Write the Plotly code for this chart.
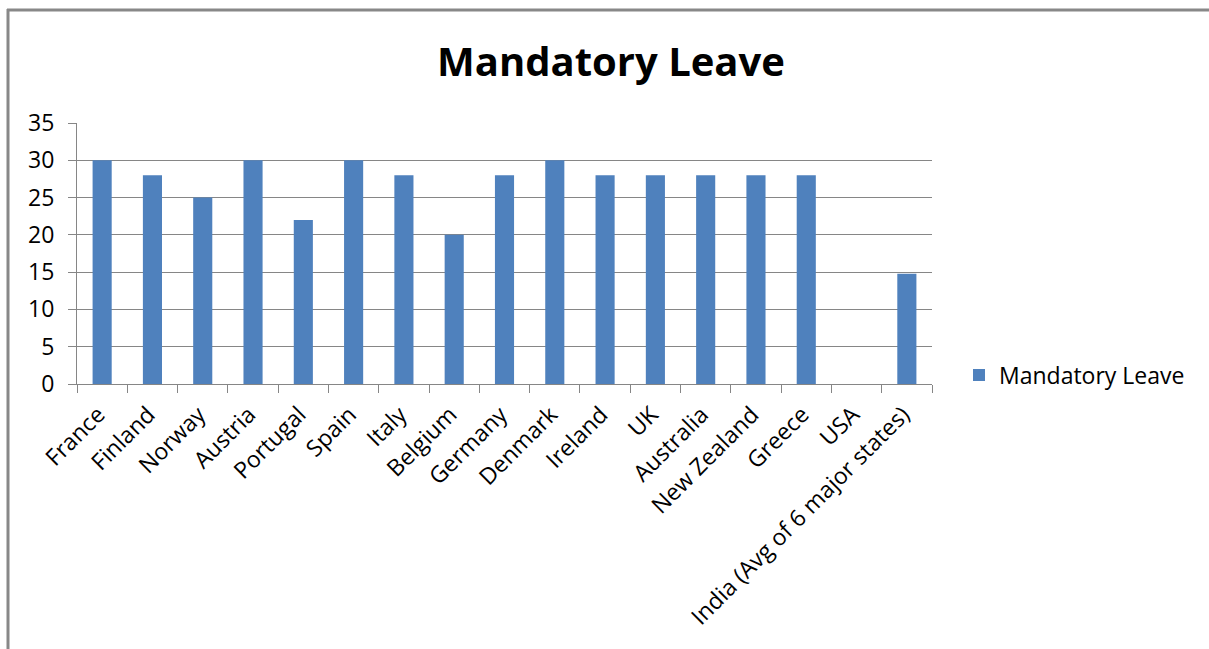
import plotly.graph_objects as go

# Statutory minimum paid leave (days per year) by country
countries = [
    "France", "Finland", "Norway", "Austria", "Portugal", "Spain", "Italy",
    "Belgium", "Germany", "Denmark", "Ireland", "UK", "Australia",
    "New Zealand", "Greece", "USA", "India (Avg of 6 major states)",
]
leave_days = [30, 28, 25, 30, 22, 30, 28, 20, 28, 30, 28, 28, 28, 28, 28, 0, 14.8]
y_ticks = [0, 5, 10, 15, 20, 25, 30, 35]

W, H = 1209, 649
L, R, T, B = 77, 277, 123, 265
plot_w = W - L - R
plot_h = H - T - B


def px_x(px):
    return (px - L) / plot_w


def px_y(py):
    return (H - B - py) / plot_h


FONT = "Open Sans"
GRID = "#868686"
LABEL_SIZE = 23

fig = go.Figure(
    go.Bar(
        x=countries,
        y=leave_days,
        name="Mandatory Leave",
        marker=dict(color="#4F81BD", line=dict(width=0)),
    )
)

fig.update_layout(
    width=W,
    height=H,
    margin=dict(l=L, r=R, t=T, b=B, pad=0),
    paper_bgcolor="white",
    plot_bgcolor="white",
    bargap=0.62,
    showlegend=True,
    title=dict(
        text="<b>Mandatory Leave</b>",
        font=dict(family=FONT, size=40, color="black"),
        x=611 / W,
        xanchor="center",
        xref="container",
        y=1 - 62 / H,
        yanchor="middle",
        yref="container",
    ),
    legend=dict(
        x=px_x(959),
        y=px_y(375),
        xanchor="left",
        yanchor="middle",
        font=dict(family=FONT, size=LABEL_SIZE, color="black"),
        bgcolor="rgba(0,0,0,0)",
        itemsizing="constant",
    ),
    font=dict(family=FONT, color="black"),
    shapes=[
        dict(type="line", xref="paper", yref="paper",
             x0=px_x(8), x1=px_x(8), y0=px_y(9), y1=px_y(H + 5),
             line=dict(color="#888888", width=3)),
        dict(type="line", xref="paper", yref="paper",
             x0=px_x(7), x1=px_x(W + 5), y0=px_y(10), y1=px_y(10),
             line=dict(color="#888888", width=3)),
    ],
)

fig.update_yaxes(
    range=[0, 35],
    tickvals=y_ticks,
    showgrid=True,
    gridcolor=GRID,
    gridwidth=1,
    showline=True,
    linecolor=GRID,
    linewidth=1,
    ticks="outside",
    ticklen=8,
    tickcolor=GRID,
    ticklabelstandoff=9,
    tickfont=dict(family=FONT, size=LABEL_SIZE, color="black"),
    zeroline=False,
)

fig.update_xaxes(
    type="category",
    tickangle=-45,
    tickson="boundaries",
    ticks="outside",
    ticklen=8,
    tickcolor=GRID,
    ticklabelstandoff=7,
    ticklabelshift=-4,
    showline=True,
    linecolor=GRID,
    linewidth=1,
    showgrid=False,
    tickfont=dict(family=FONT, size=LABEL_SIZE, color="black"),
)

fig.write_html("out.html")
